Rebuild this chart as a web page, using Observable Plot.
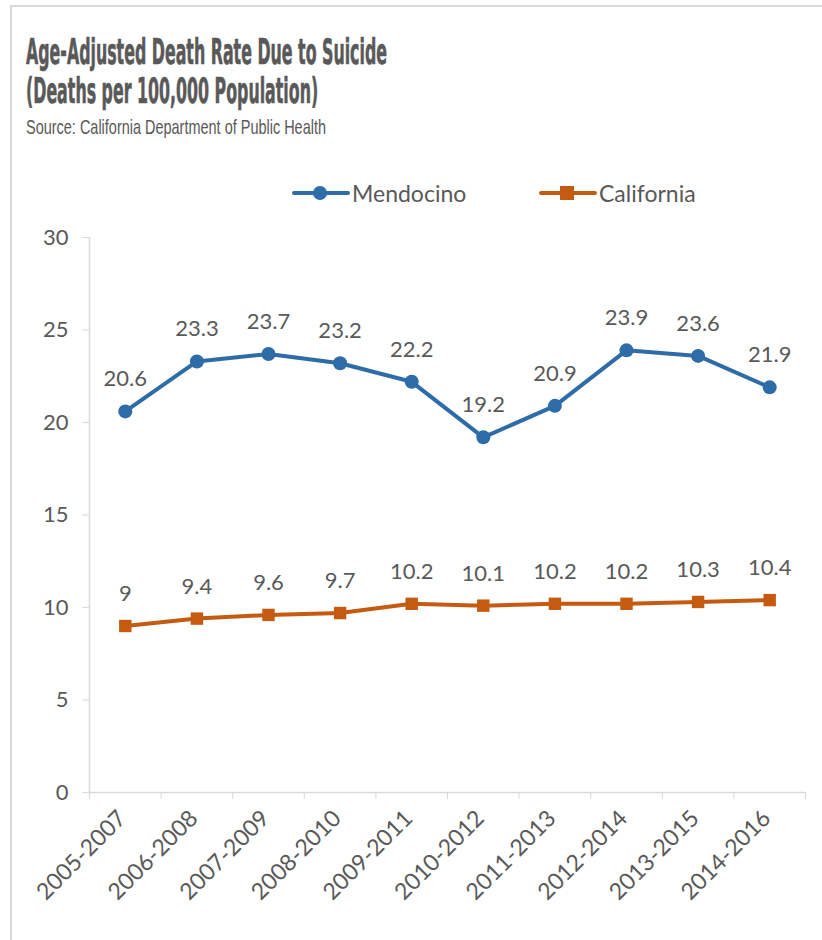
<!DOCTYPE html>
<html>
<head>
<meta charset="utf-8">
<script src="https://cdn.jsdelivr.net/npm/d3@7"></script>
<script src="https://cdn.jsdelivr.net/npm/@observablehq/plot@0.6"></script>
<style>
  html, body { margin: 0; padding: 0; background: #fff; }
  body { width: 822px; height: 940px; position: relative; overflow: hidden; font-family: Lato, sans-serif; color: #595959; }
  #frame { position: absolute; left: 10px; top: 5px; width: 820px; height: 940px; border-left: 2px solid #d9d9d9; border-top: 2px solid #d9d9d9; box-sizing: border-box; }
  #title { position: absolute; left: 26px; top: 33px; font-family: "Liberation Sans Narrow", "DejaVu Sans Condensed", sans-serif; font-weight: bold; font-size: 35px; line-height: 39px; color: #595959; -webkit-text-stroke: 0.6px #595959; white-space: nowrap; transform-origin: 0 0; }
  #source { position: absolute; left: 26px; top: 115px; font-family: "Liberation Sans Narrow", sans-serif; font-size: 21px; color: #595959; white-space: nowrap; transform-origin: 0 0; }
  #legend { position: absolute; top: 178px; left: 0; width: 822px; height: 30px; }
  .item { position: absolute; top: 0; display: flex; align-items: center; font-size: 23px; color: #595959; }
  #chart { position: absolute; left: 0; top: 215px; }
</style>
</head>
<body>
<div id="frame"></div>
<div id="title">Age-Adjusted Death Rate Due to Suicide<br>(Deaths per 100,000 Population)</div>
<div id="source">Source: California Department of Public Health</div>
<div id="legend"></div>
<div id="chart"></div>
<script>
const periods = ["2005-2007","2006-2008","2007-2009","2008-2010","2009-2011","2010-2012","2011-2013","2012-2014","2013-2015","2014-2016"];
const mendocino = [20.6, 23.3, 23.7, 23.2, 22.2, 19.2, 20.9, 23.9, 23.6, 21.9];
const california = [9, 9.4, 9.6, 9.7, 10.2, 10.1, 10.2, 10.2, 10.3, 10.4];
const seriesNames = ["Mendocino", "California"];
const seriesColors = ["#2E6CA8", "#C55A11"];
const seriesSymbols = ["circle", "square"];
const yTicks = [0, 5, 10, 15, 20, 25, 30];

const rows = [];
periods.forEach((p, i) => {
  rows.push({i, period: p, series: "Mendocino", value: mendocino[i]});
  rows.push({i, period: p, series: "California", value: california[i]});
});
const idx = periods.map((_, i) => i);
const bounds = d3.range(periods.length + 1).map(k => k - 0.5);
const axisColor = "#d9d9d9";
const textColor = "#595959";

const chart = Plot.plot({
  width: 822,
  height: 725,
  marginTop: 22,
  marginBottom: 148,
  marginLeft: 89,
  marginRight: 17,
  style: {fontFamily: "Lato, sans-serif", fontSize: "22px", color: textColor, background: "transparent"},
  x: {type: "linear", domain: [bounds[0], bounds[bounds.length - 1]]},
  y: {domain: [yTicks[0], yTicks[yTicks.length - 1]]},
  color: {domain: seriesNames, range: seriesColors},
  symbol: {domain: seriesNames, range: seriesSymbols},
  marks: [
    Plot.ruleX([bounds[0]], {stroke: axisColor, strokeWidth: 1.5}),
    Plot.ruleY([yTicks[0]], {stroke: axisColor, strokeWidth: 1.5}),
    Plot.axisY({ticks: yTicks, tickSize: 7, tickPadding: 14, stroke: axisColor, fill: textColor, fontSize: 22, label: null}),
    Plot.axisX({ticks: bounds, tickSize: 7, tickFormat: () => "", stroke: axisColor, label: null}),
    Plot.text(idx, {x: d => d, frameAnchor: "bottom", text: i => periods[i], rotate: -45, textAnchor: "end", lineAnchor: "middle", dx: -3, dy: 22, fill: textColor, fontSize: 23}),
    Plot.line(rows, {x: "i", y: "value", z: "series", stroke: "series", strokeWidth: 4}),
    Plot.dot(rows, {x: "i", y: "value", fill: "series", symbol: "series", r: 7, stroke: null}),
    Plot.text(rows, {x: "i", y: "value", text: d => String(d.value), dy: -32, fill: textColor, fontSize: 22})
  ]
});
document.getElementById("chart").appendChild(chart);

// Legend
const legend = document.getElementById("legend");
const legendX = [292, 539];
seriesNames.forEach((name, k) => {
  const item = document.createElement("div");
  item.className = "item";
  item.style.left = legendX[k] + "px";
  const sym = seriesSymbols[k] === "circle"
    ? `<circle cx="28" cy="15" r="7" fill="${seriesColors[k]}"/>`
    : `<rect x="21" y="8" width="14" height="14" fill="${seriesColors[k]}"/>`;
  item.innerHTML = `<svg width="58" height="30"><line x1="2" x2="56" y1="15" y2="15" stroke="${seriesColors[k]}" stroke-width="4" stroke-linecap="round"/>${sym}</svg><span style="margin-left:2px">${name}</span>`;
  legend.appendChild(item);
});

// fit title widths to reference
function fit(id, w) {
  const el = document.getElementById(id);
  const r = el.getBoundingClientRect();
  el.style.transform = `scaleX(${w / r.width})`;
}
fit("title", 361);
fit("source", 300);
</script>
</body>
</html>
